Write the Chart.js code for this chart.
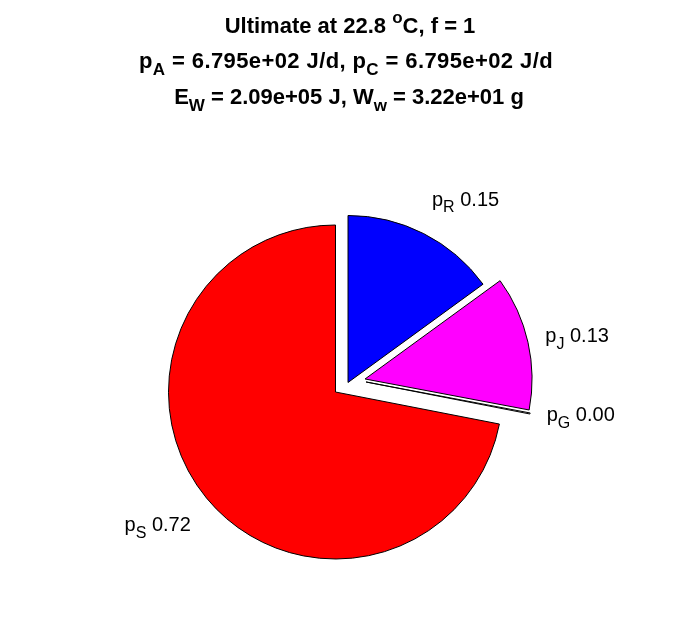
<!DOCTYPE html>
<html>
<head>
<meta charset="utf-8">
<script src="https://cdn.jsdelivr.net/npm/chart.js@4.4.1/dist/chart.umd.min.js"></script>
<style>
  html, body { margin: 0; background: #fff; }
</style>
</head>
<body>
<canvas id="pie" width="696" height="618"></canvas>
<script>
// slice data (fractions of the total), clockwise from 12 o'clock
const sliceNames = ['R', 'J', 'G', 'S']
const sliceValues = [0.15, 0.13, 0.001, 0.72]

// numbers shown in the title
const temperature = 22.8
const fValue = 1
const pA = 679.5
const pC = 679.5
const EW = 2.09e5
const Ww = 32.2

const FONT = '"Liberation Sans", Arial, Helvetica, sans-serif'

function sci(v, digits) {
  // MATLAB style exponent: 6.795e+02
  const [m, e] = v.toExponential(digits).split('e')
  const sign = e[0] === '-' ? '-' : '+'
  const num = e.replace(/[+-]/, '').padStart(2, '0')
  return m + 'e' + sign + num
}

// draws a run of text pieces, some of them sub- or superscript
function drawRich(ctx, parts, x, y, align, size, weight, spacing) {
  const fontFor = p => `${weight} ${p.sub || p.sup ? Math.round(size * 0.78) : size}px ${FONT}`
  ctx.letterSpacing = (spacing || 0) + 'px'
  let width = 0
  parts.forEach(p => {
    ctx.font = fontFor(p)
    p.w = ctx.measureText(p.t).width
    width += p.w
  })
  let cx = align === 'center' ? x - width / 2 : align === 'right' ? x - width : x
  ctx.textAlign = 'left'
  ctx.textBaseline = 'alphabetic'
  parts.forEach(p => {
    ctx.font = fontFor(p)
    let dy = 0
    if (p.sub) dy = size * 0.33
    if (p.sup) dy = -size * 0.45
    ctx.fillText(p.t, cx, y + dy)
    cx += p.w
  })
  ctx.letterSpacing = '0px'
}

// moves exploded slices away from the centre
const explodePlugin = {
  id: 'explode',
  afterDatasetsUpdate(chart, args, opts) {
    const meta = chart.getDatasetMeta(0)
    meta.data.forEach((arc, i) => {
      const s = opts.shifts[i]
      if (!s) return
      arc.x += s[0] * arc.outerRadius
      arc.y += s[1] * arc.outerRadius
    })
  }
}

const labelPlugin = {
  id: 'sliceLabels',
  afterDatasetsDraw(chart, args, opts) {
    const ctx = chart.ctx
    const area = chart.chartArea
    const cx = (area.left + area.right) / 2
    const cy = (area.top + area.bottom) / 2
    const meta = chart.getDatasetMeta(0)
    ctx.save()
    ctx.fillStyle = '#000'
    meta.data.forEach((arc, i) => {
      const mid = (arc.startAngle + arc.endAngle) / 2
      const r = arc.outerRadius * (1.2 + (opts.exploded[i] ? 0.1 : 0))
      const nudge = opts.nudge[i]
      const x = cx + Math.cos(mid) * r + nudge[0]
      const y = cy + Math.sin(mid) * r + nudge[1]
      const parts = [
        { t: 'p' },
        { t: sliceNames[i], sub: true },
        { t: ' ' + sliceValues[i].toFixed(2) }
      ]
      drawRich(ctx, parts, x, y + 7, Math.cos(mid) >= 0 ? 'left' : 'right', 20, 'normal')
    })
    ctx.restore()
  }
}

const titlePlugin = {
  id: 'richTitle',
  afterDraw(chart, args, opts) {
    const ctx = chart.ctx
    const lines = [
      [{ t: `Ultimate at ${temperature} ` }, { t: 'o', sup: true }, { t: `C, f = ${fValue}` }],
      [{ t: 'p' }, { t: 'A', sub: true }, { t: ` = ${sci(pA, 3)} J/d, p` }, { t: 'C', sub: true }, { t: ` = ${sci(pC, 3)} J/d` }],
      [{ t: 'E' }, { t: 'W', sub: true }, { t: ` = ${sci(EW, 2)} J, W` }, { t: 'w', sub: true }, { t: ` = ${sci(Ww, 2)} g` }]
    ]
    ctx.save()
    ctx.fillStyle = '#000'
    lines.forEach((parts, i) => {
      drawRich(ctx, parts, opts.x[i], opts.baselines[i], 'center', 22, 'bold', opts.spacing[i])
    })
    ctx.restore()
  }
}

new Chart(document.getElementById('pie'), {
  type: 'pie',
  data: {
    labels: sliceNames.map(n => 'p' + n),
    datasets: [{
      data: sliceValues,
      backgroundColor: ['#0000ff', '#ff00ff', '#ffffff', '#ff0000'],
      borderColor: '#000',
      borderWidth: 1,
      radius: 167
    }]
  },
  options: {
    responsive: false,
    animation: false,
    devicePixelRatio: 1,
    layout: {
      padding: { left: 0, right: 25, top: 166, bottom: 0 }
    },
    plugins: {
      legend: { display: false },
      tooltip: { enabled: false },
      explode: {
        shifts: [[0.075, -0.057], [0.177, -0.078], [0.183, -0.06], null]
      },
      sliceLabels: {
        exploded: [true, true, true, false],
        nudge: [[-2, 0], [-2, -9], [-2, -19], [10, 5]]
      },
      richTitle: {
        x: [350, 346, 349],
        baselines: [33, 68, 104],
        spacing: [0, 0.4, 0]
      }
    }
  },
  plugins: [explodePlugin, labelPlugin, titlePlugin]
})
</script>
</body>
</html>
